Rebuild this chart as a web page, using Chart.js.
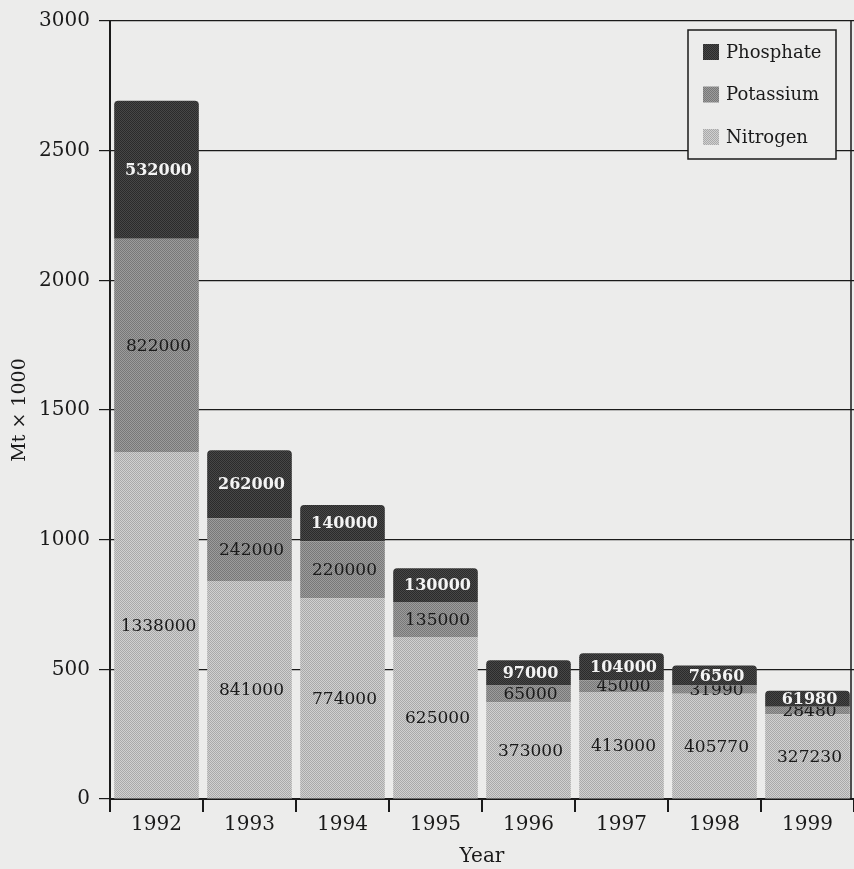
<!DOCTYPE html>
<html>
<head>
<meta charset="utf-8">
<title>Fertiliser consumption 1992-1999</title>
<script src="https://cdn.jsdelivr.net/npm/chart.js@4/dist/chart.umd.min.js"></script>
<style>
  html, body { margin: 0; padding: 0; background: #ececeb; }
  canvas { display: block; }
</style>
</head>
<body>
<canvas id="fertChart" width="854" height="869"></canvas>
<script>
// --- data (tonnes, axis shows Mt x 1000) ---
const years = ['1992', '1993', '1994', '1995', '1996', '1997', '1998', '1999'];
const nitrogen  = [1338000, 841000, 774000, 625000, 373000, 413000, 405770, 327230];
const potassium = [822000, 242000, 220000, 135000, 65000, 45000, 31990, 28480];
const phosphate = [532000, 262000, 140000, 130000, 97000, 104000, 76560, 61980];
const yTicks = [0, 500, 1000, 1500, 2000, 2500, 3000];
const UNIT = 1000;

const INK = '#1a1a1a';
const BG = '#ececeb';
const SERIF = '"DejaVu Serif", "Liberation Serif", serif';

// small checker pattern, gives the printed halftone look
function dots(a, b) {
  const c = document.createElement('canvas');
  c.width = 2; c.height = 2;
  const g = c.getContext('2d');
  g.fillStyle = a; g.fillRect(0, 0, 2, 2);
  g.fillStyle = b; g.fillRect(0, 0, 1, 1); g.fillRect(1, 1, 1, 1);
  return g.createPattern(c, 'repeat');
}

const fillN = dots('#d0d0d0', '#a9a9a9');
const fillK = dots('#9c9c9c', '#787878');
const fillP = dots('#474747', '#2b2b2b');

const series = [
  { label: 'Nitrogen',  values: nitrogen,  fill: fillN },
  { label: 'Potassium', values: potassium, fill: fillK },
  { label: 'Phosphate', values: phosphate, fill: fillP }
];

// value printed in the middle of every segment
const segmentLabels = {
  id: 'segmentLabels',
  afterDatasetsDraw(chart) {
    const ctx = chart.ctx;
    const area = chart.chartArea;
    ctx.save();
    ctx.textAlign = 'center';
    ctx.textBaseline = 'middle';
    series.forEach((s, di) => {
      const meta = chart.getDatasetMeta(di);
      const top = di === series.length - 1;
      meta.data.forEach((el, i) => {
        const p = el.getProps(['x', 'y', 'base'], true);
        ctx.save();
        if (!top) {
          // segment above covers the upper part of the text
          ctx.beginPath();
          ctx.rect(area.left, p.y, area.right - area.left, area.bottom - p.y);
          ctx.clip();
        }
        ctx.font = (top ? 'bold 16px ' : '17px ') + SERIF;
        ctx.fillStyle = top ? '#f4f4f4' : INK;
        ctx.fillText(String(s.values[i]), p.x + 2, (p.y + p.base) / 2 + 1);
        ctx.restore();
      });
    });
    ctx.restore();
  }
};

// right frame line + boxed legend in the top right corner
const frameLegend = {
  id: 'frameLegend',
  beforeDatasetsDraw(chart) {
    const ctx = chart.ctx;
    const a = chart.chartArea;
    ctx.save();
    ctx.strokeStyle = INK;
    ctx.lineWidth = 1.5;
    ctx.beginPath();
    ctx.moveTo(a.right - 3, a.top);
    ctx.lineTo(a.right - 3, a.bottom);
    ctx.stroke();
    ctx.restore();
  },
  afterDraw(chart) {
    const ctx = chart.ctx;
    const box = { x: 688, y: 30, w: 148, h: 129 };
    ctx.save();
    ctx.fillStyle = BG;
    ctx.fillRect(box.x, box.y, box.w, box.h);
    ctx.strokeStyle = INK;
    ctx.lineWidth = 1.5;
    ctx.strokeRect(box.x, box.y, box.w, box.h);
    ctx.font = '18px ' + SERIF;
    ctx.textBaseline = 'middle';
    const rows = series.slice().reverse();
    rows.forEach((s, i) => {
      const cy = box.y + 22 + i * 42.5;
      ctx.fillStyle = s.fill;
      ctx.fillRect(box.x + 15, cy - 8, 16, 16);
      ctx.fillStyle = INK;
      ctx.fillText(s.label, box.x + 38, cy + 1);
    });
    ctx.restore();
  }
};

new Chart(document.getElementById('fertChart'), {
  type: 'bar',
  data: {
    labels: years,
    datasets: series.map((s, i) => ({
      label: s.label,
      data: s.values.map(v => v / UNIT),
      backgroundColor: s.fill,
      borderWidth: 0,
      borderRadius: i === series.length - 1 ? { topLeft: 4, topRight: 4 } : 0,
      borderSkipped: false,
      barPercentage: 0.91,
      categoryPercentage: 1
    }))
  },
  options: {
    responsive: false,
    animation: false,
    layout: { padding: { top: 9, right: 0, left: 0, bottom: 0 } },
    plugins: {
      legend: { display: false },
      tooltip: { enabled: false }
    },
    scales: {
      x: {
        stacked: true,
        offset: true,
        grid: { drawOnChartArea: false, drawTicks: true, tickLength: 13, color: INK, lineWidth: 2 },
        border: { color: INK, width: 2 },
        ticks: { color: INK, font: { family: SERIF, size: 20 }, padding: 1 },
        title: { display: true, text: 'Year', color: INK, font: { family: SERIF, size: 20 }, padding: { top: 0, bottom: 0 } },
        afterFit(s) { s.height = 70; }
      },
      y: {
        stacked: true,
        min: yTicks[0],
        max: yTicks[yTicks.length - 1],
        afterBuildTicks(s) { s.ticks = yTicks.map(v => ({ value: v })); },
        grid: { color: INK, lineWidth: 1.2, tickLength: 11 },
        border: { color: INK, width: 2 },
        ticks: { color: INK, font: { family: SERIF, size: 20 }, padding: 9, callback: v => String(v) },
        title: { display: true, text: 'Mt × 1000', color: INK, font: { family: SERIF, size: 19 }, padding: { top: 9, bottom: 0 } },
        afterFit(s) { s.width = 110; }
      }
    }
  },
  plugins: [segmentLabels, frameLegend]
});
</script>
</body>
</html>
